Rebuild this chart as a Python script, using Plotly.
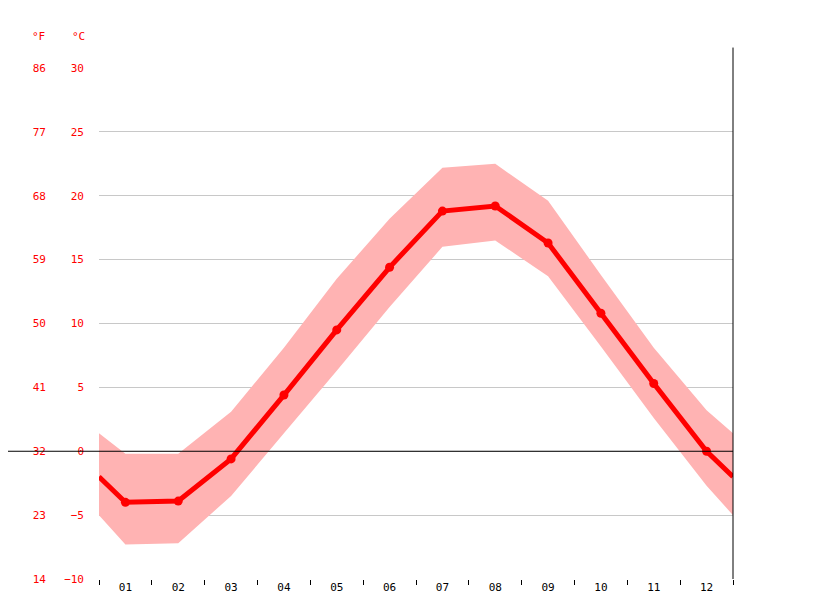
import plotly.graph_objects as go

months = ["01", "02", "03", "04", "05", "06", "07", "08", "09", "10", "11", "12"]
month_pos = list(range(1, 13))
temp_mean = [-4.0, -3.9, -0.6, 4.4, 9.5, 14.4, 18.8, 19.2, 16.3, 10.8, 5.3, 0.0]
temp_high = [-0.2, -0.2, 3.1, 8.1, 13.5, 18.2, 22.2, 22.5, 19.6, 13.8, 8.1, 3.2]
temp_low = [-7.3, -7.2, -3.5, 1.4, 6.3, 11.3, 16.0, 16.5, 13.7, 8.2, 2.6, -2.7]
# values at the chart edges (year wrap Dec -> Jan)
edge_mean = -2.0
edge_high = 1.4
edge_low = -5.0

c_ticks = [-10, -5, 0, 5, 10, 15, 20, 25, 30]
f_ticks = [14, 23, 32, 41, 50, 59, 68, 77, 86]

x_ext = [0.5] + month_pos + [12.5]
hi = [edge_high] + temp_high + [edge_high]
lo = [edge_low] + temp_low + [edge_low]
mean = [edge_mean] + temp_mean + [edge_mean]

font = dict(family="DejaVu Sans Mono", size=11, color="red")

fig = go.Figure()
fig.add_trace(go.Scatter(x=x_ext, y=hi, mode="lines", line=dict(width=0), hoverinfo="skip"))
fig.add_trace(go.Scatter(x=x_ext, y=lo, mode="lines", line=dict(width=0), fill="tonexty",
                         fillcolor="#ffb3b3", hoverinfo="skip"))
fig.add_trace(go.Scatter(x=x_ext, y=mean, mode="lines", line=dict(color="red", width=5)))
fig.add_trace(go.Scatter(x=month_pos, y=temp_mean, mode="markers",
                         marker=dict(color="red", size=9)))
fig.add_trace(go.Scatter(x=[1], y=[14], yaxis="y2", mode="markers", opacity=0, hoverinfo="skip"))

fig.update_layout(
    width=815, height=611, showlegend=False,
    paper_bgcolor="white", plot_bgcolor="white",
    margin=dict(l=0, r=90, t=60, b=40, autoexpand=False),
    xaxis=dict(domain=[91 / 725, 1], range=[0.5, 12.5], tickvals=month_pos, ticktext=months,
               ticks="", tickfont=dict(family="DejaVu Sans Mono", size=11, color="black"),
               showgrid=False, zeroline=False, showline=False,
               minor=dict(tickvals=x_ext[0:1] + [m + 0.5 for m in month_pos], ticks="outside",
                          ticklen=5, tickcolor="black")),
    yaxis=dict(range=[-10, 30], tickvals=c_ticks, tickfont=font, ticklabelstandoff=14,
               showgrid=True, gridcolor="#c8c8c8", zeroline=False, showline=False),
    yaxis2=dict(range=[14, 86], tickvals=f_ticks, tickfont=font, overlaying="y",
                anchor="free", position=38 / 725, side="left", showgrid=False,
                zeroline=False, showline=False),
)
fig.add_shape(type="line", xref="paper", yref="y", x0=0, x1=1, y0=0, y1=0,
              line=dict(color="black", width=1), layer="above")
fig.add_shape(type="line", xref="paper", yref="paper", x0=1, x1=1, y0=0, y1=1.04,
              line=dict(color="black", width=1))
fig.add_annotation(text="°F", xref="paper", yref="paper", x=30 / 725, y=1.045, showarrow=False,
                   font=font, xanchor="center", yanchor="bottom")
fig.add_annotation(text="°C", xref="paper", yref="paper", x=70 / 725, y=1.045, showarrow=False,
                   font=font, xanchor="center", yanchor="bottom")
fig.write_html("out.html")
